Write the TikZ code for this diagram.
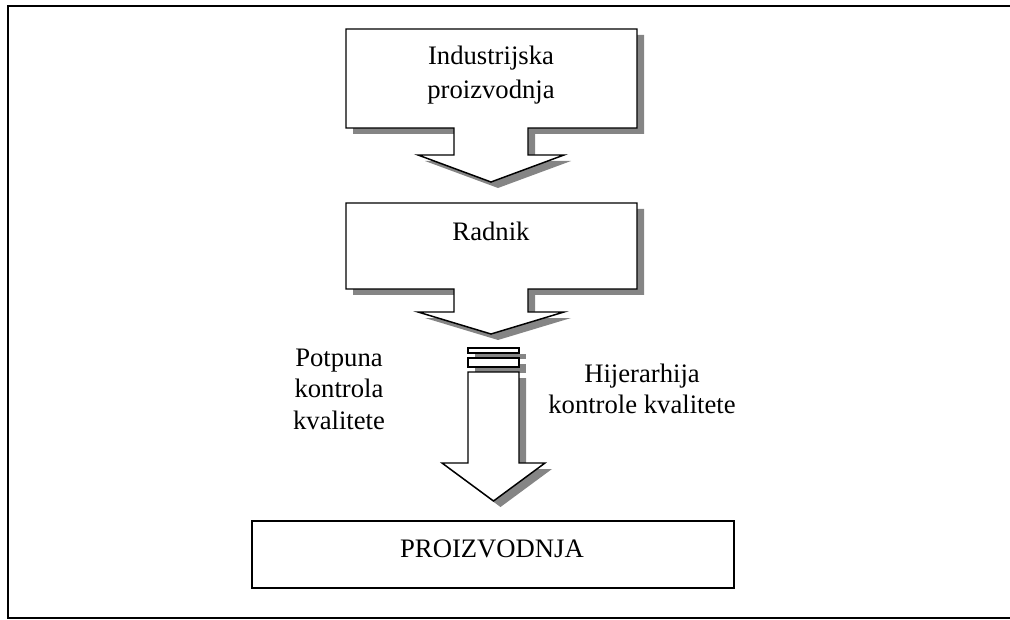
\documentclass[tikz,border=0pt]{standalone}
\usepackage{fontspec}
\setmainfont{Liberation Serif}
\definecolor{shadowgray}{HTML}{858585}
\begin{document}
\begin{tikzpicture}[x=0.75pt,y=-0.75pt,
  outlined/.style={draw=black, line width=1.1pt, fill=white, line join=miter},
  shadowed/.style={fill=shadowgray, draw=none, shift={(7,6)}},
  frameline/.style={draw=black, line width=1.6pt},
  lbl/.style={font=\fontsize{20}{24}\selectfont, align=center, inner sep=0pt}]
\useasboundingbox (0,0) rectangle (1010,620);
\clip (0,0) rectangle (1010,620);
% outer frame
\draw[frameline] (1015,6) -- (8,6) -- (8,618) -- (1015,618);
% callout 1
\fill[shadowed] (346,29) -- (637,29) -- (637,128) -- (528,128) -- (528,155) -- (564,155) -- (491,182) -- (418,155) -- (454,155) -- (454,128) -- (346,128) -- cycle;
\draw[outlined] (346,29) -- (637,29) -- (637,128) -- (528,128) -- (528,155) -- (564,155) -- (491,182) -- (418,155) -- (454,155) -- (454,128) -- (346,128) -- cycle;
% callout 2
\fill[shadowed] (346,203) -- (637,203) -- (637,289) -- (528,289) -- (528,312) -- (564,312) -- (491,334) -- (418,312) -- (454,312) -- (454,289) -- (346,289) -- cycle;
\draw[outlined] (346,203) -- (637,203) -- (637,289) -- (528,289) -- (528,312) -- (564,312) -- (491,334) -- (418,312) -- (454,312) -- (454,289) -- (346,289) -- cycle;
% striped arrow
\fill[shadowed] (468,348) rectangle (519,353);
\fill[shadowed] (468,358) rectangle (519,367);
\fill[shadowed] (468,372) -- (519,372) -- (519,463) -- (545,463) -- (493.5,501) -- (442,463) -- (468,463) -- cycle;
\draw[outlined] (468,348) rectangle (519,353);
\draw[outlined] (468,358) rectangle (519,367);
\draw[outlined] (468,372) -- (519,372) -- (519,463) -- (545,463) -- (493.5,501) -- (442,463) -- (468,463) -- cycle;
% bottom box
\draw[outlined] (252,521) rectangle (734,588);
% texts
\node[lbl, font=\fontsize{20}{26}\selectfont] (ind) at (491,75) {Industrijska\\proizvodnja};
\node[lbl] (rad) at (491,231) {Radnik};
\node[lbl, font=\fontsize{20}{23.6}\selectfont] (pot) at (339,389) {Potpuna\\kontrola\\kvalitete};
\node[lbl, font=\fontsize{20}{23.6}\selectfont] (hij) at (642,389) {Hijerarhija\\kontrole kvalitete};
\node[lbl] (pro) at (492,549) {PROIZVODNJA};
\end{tikzpicture}
\end{document}
